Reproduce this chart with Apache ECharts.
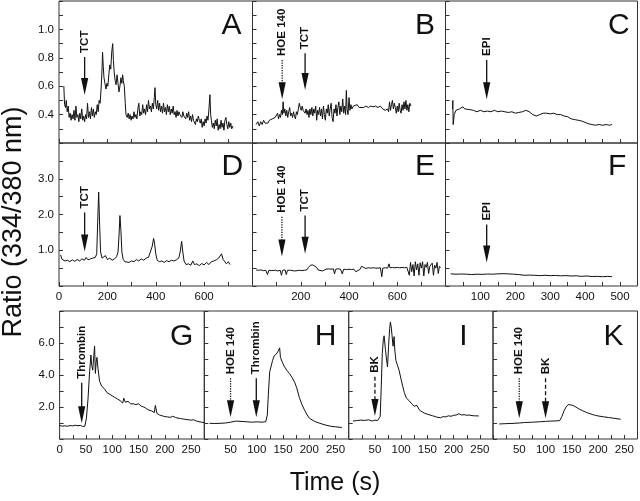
<!DOCTYPE html>
<html><head><meta charset="utf-8">
<script src="https://cdn.jsdelivr.net/npm/echarts@6/dist/echarts.min.js"></script>
<style>html,body{margin:0;padding:0;background:#fff}#c{width:640px;height:501px}</style>
</head><body><div id="c"></div>
<script>
// ---------- DATA ----------
const seriesA = [[20,0.60],[23,0.47],[27,0.45],[30,0.50],[34,0.42],[38,0.46],[42,0.38],[46,0.41],[50,0.36],[54,0.40],[58,0.37],[62,0.43],[66,0.36],[70,0.46],[74,0.38],[78,0.40],[82,0.35],[86,0.41],[90,0.37],[94,0.44],[98,0.36],[102,0.39],[106,0.35],[110,0.40],[114,0.37],[118,0.48],[122,0.38],[126,0.42],[130,0.37],[134,0.45],[138,0.39],[142,0.44],[146,0.38],[150,0.42],[154,0.40],[158,0.47],[162,0.42],[166,0.50],[170,0.48],[174,0.58],[178,0.72],[180,0.84],[183,0.74],[186,0.66],[190,0.62],[194,0.58],[198,0.62],[202,0.60],[206,0.68],[210,0.75],[214,0.72],[218,0.84],[222,0.90],[225,0.78],[228,0.70],[232,0.64],[236,0.61],[240,0.68],[244,0.62],[248,0.56],[252,0.60],[256,0.66],[260,0.62],[263,0.68],[266,0.64],[270,0.60],[274,0.48],[277,0.40],[282,0.38],[286,0.41],[290,0.37],[294,0.40],[298,0.36],[302,0.39],[306,0.37],[310,0.42],[314,0.38],[318,0.40],[322,0.37],[326,0.44],[330,0.48],[334,0.39],[338,0.42],[342,0.40],[346,0.47],[350,0.41],[354,0.44],[358,0.40],[362,0.47],[366,0.42],[370,0.50],[374,0.44],[378,0.46],[382,0.42],[386,0.48],[390,0.44],[394,0.52],[397,0.59],[400,0.47],[404,0.44],[408,0.50],[412,0.43],[416,0.48],[420,0.42],[424,0.46],[428,0.41],[432,0.48],[436,0.42],[440,0.45],[444,0.40],[448,0.47],[452,0.42],[456,0.46],[460,0.40],[464,0.44],[468,0.41],[472,0.46],[476,0.40],[480,0.42],[484,0.38],[488,0.43],[492,0.39],[496,0.42],[500,0.40],[504,0.41],[508,0.38],[512,0.42],[516,0.39],[520,0.40],[524,0.37],[528,0.41],[532,0.38],[536,0.42],[540,0.36],[544,0.39],[548,0.35],[552,0.40],[556,0.36],[560,0.37],[564,0.33],[568,0.37],[572,0.35],[576,0.39],[580,0.36],[584,0.34],[588,0.37],[592,0.31],[596,0.35],[600,0.32],[604,0.37],[608,0.34],[612,0.39],[616,0.36],[620,0.44],[624,0.54],[627,0.40],[630,0.36],[634,0.31],[638,0.34],[642,0.30],[646,0.36],[650,0.32],[654,0.37],[658,0.29],[662,0.33],[666,0.30],[670,0.36],[674,0.31],[678,0.34],[682,0.29],[686,0.36],[690,0.38],[694,0.33],[698,0.30],[702,0.35],[706,0.31],[710,0.34],[714,0.30],[720,0.32]];
const seriesB = [[15,0.33],[22,0.35],[28,0.32],[34,0.35],[40,0.33],[46,0.36],[52,0.34],[58,0.35],[64,0.34],[70,0.36],[76,0.35],[82,0.37],[88,0.36],[94,0.38],[100,0.37],[104,0.41],[108,0.37],[112,0.40],[116,0.38],[120,0.43],[124,0.40],[127,0.49],[130,0.41],[134,0.44],[138,0.39],[142,0.43],[146,0.38],[150,0.42],[154,0.45],[158,0.39],[162,0.41],[166,0.38],[170,0.42],[174,0.39],[178,0.37],[182,0.42],[186,0.40],[190,0.44],[194,0.48],[198,0.45],[202,0.43],[206,0.46],[210,0.43],[214,0.44],[218,0.41],[222,0.44],[226,0.40],[230,0.43],[234,0.38],[238,0.44],[242,0.40],[246,0.45],[250,0.39],[254,0.44],[258,0.41],[262,0.46],[266,0.36],[270,0.43],[274,0.40],[278,0.45],[282,0.39],[286,0.44],[290,0.37],[294,0.46],[298,0.40],[302,0.36],[306,0.44],[310,0.41],[314,0.47],[318,0.39],[322,0.44],[326,0.48],[330,0.38],[334,0.35],[338,0.44],[342,0.41],[346,0.47],[350,0.39],[354,0.45],[358,0.49],[362,0.40],[366,0.46],[370,0.42],[374,0.51],[378,0.41],[382,0.46],[386,0.40],[389,0.57],[392,0.44],[396,0.40],[400,0.52],[404,0.43],[408,0.47],[412,0.44],[418,0.46],[426,0.45],[434,0.47],[442,0.45],[450,0.46],[460,0.45],[470,0.46],[480,0.45],[490,0.46],[500,0.455],[510,0.46],[520,0.45],[530,0.46],[540,0.44],[550,0.43],[560,0.44],[564,0.42],[568,0.49],[572,0.43],[576,0.47],[580,0.50],[584,0.44],[588,0.48],[592,0.45],[596,0.41],[600,0.46],[604,0.42],[608,0.48],[612,0.43],[616,0.41],[620,0.47],[624,0.43],[628,0.49],[632,0.44],[636,0.50],[640,0.43],[644,0.47],[648,0.42],[652,0.48],[657,0.46]];
const seriesC = [[20,0.44],[21,0.50],[22,0.33],[25,0.40],[30,0.43],[35,0.42],[40,0.44],[45,0.43],[50,0.455],[55,0.44],[60,0.43],[70,0.435],[80,0.43],[90,0.42],[100,0.43],[110,0.42],[120,0.425],[130,0.42],[140,0.43],[150,0.42],[160,0.425],[170,0.42],[180,0.415],[190,0.42],[200,0.41],[210,0.415],[220,0.42],[230,0.43],[240,0.42],[250,0.40],[260,0.39],[270,0.40],[280,0.41],[290,0.41],[300,0.405],[310,0.41],[320,0.40],[330,0.40],[340,0.39],[350,0.385],[360,0.37],[370,0.365],[380,0.36],[390,0.355],[400,0.345],[410,0.335],[420,0.33],[430,0.325],[440,0.33],[450,0.325],[460,0.33],[470,0.325],[477,0.33]];
const seriesD = [[7,0.87],[12,0.75],[18,0.80],[25,0.70],[35,0.72],[45,0.68],[55,0.73],[65,0.69],[75,0.74],[85,0.70],[95,0.76],[105,0.72],[112,0.80],[120,0.73],[130,0.76],[140,0.78],[150,0.80],[156,0.90],[160,1.80],[164,2.63],[168,1.70],[172,0.95],[178,0.78],[185,0.76],[192,0.85],[200,0.74],[210,0.78],[220,0.72],[230,0.76],[238,0.82],[244,0.95],[248,1.40],[252,1.97],[256,1.55],[260,0.95],[265,0.75],[272,0.68],[280,0.72],[290,0.66],[300,0.70],[310,0.68],[320,0.74],[330,0.70],[340,0.76],[350,0.72],[360,0.78],[370,0.80],[378,0.85],[385,1.10],[391,1.33],[395,1.20],[400,0.90],[406,0.72],[415,0.68],[425,0.70],[435,0.66],[445,0.71],[455,0.68],[465,0.72],[475,0.70],[485,0.73],[495,0.78],[501,0.95],[507,1.25],[512,0.95],[517,0.70],[525,0.60],[535,0.62],[545,0.58],[553,0.70],[560,0.60],[570,0.62],[580,0.57],[590,0.63],[600,0.59],[610,0.66],[620,0.60],[630,0.68],[640,0.70],[650,0.73],[660,0.78],[668,0.82],[672,0.90],[678,0.75],[685,0.80],[692,0.62],[700,0.68],[707,0.60]];
const seriesE = [[15,0.45],[25,0.44],[35,0.45],[45,0.43],[55,0.44],[62,0.32],[68,0.44],[80,0.43],[95,0.44],[105,0.42],[115,0.44],[120,0.30],[125,0.44],[135,0.45],[140,0.32],[145,0.44],[150,0.45],[158,0.44],[165,0.43],[175,0.42],[185,0.43],[195,0.44],[205,0.43],[215,0.44],[225,0.45],[232,0.52],[240,0.58],[250,0.59],[258,0.57],[266,0.52],[272,0.45],[280,0.40],[290,0.42],[298,0.41],[305,0.47],[315,0.48],[325,0.47],[335,0.48],[340,0.34],[345,0.47],[355,0.48],[365,0.47],[372,0.34],[378,0.47],[390,0.46],[400,0.47],[410,0.46],[420,0.47],[428,0.40],[435,0.40],[445,0.46],[452,0.55],[460,0.50],[470,0.49],[480,0.51],[490,0.50],[500,0.51],[510,0.50],[520,0.50],[530,0.51],[536,0.26],[540,0.50],[550,0.51],[560,0.50],[566,0.62],[570,0.51],[580,0.52],[590,0.51],[600,0.52],[610,0.51],[620,0.52],[630,0.51],[640,0.52],[650,0.30],[655,0.66],[660,0.40],[665,0.60],[670,0.28],[675,0.68],[680,0.45],[685,0.62],[690,0.30],[695,0.65],[700,0.50],[705,0.68],[710,0.28],[715,0.60],[720,0.52],[725,0.66],[730,0.35],[735,0.55],[740,0.52],[745,0.64],[750,0.30],[755,0.58],[760,0.50],[765,0.66],[770,0.35],[775,0.55],[780,0.52]];
const seriesF = [[15,0.34],[30,0.33],[45,0.335],[60,0.33],[75,0.32],[90,0.33],[105,0.325],[120,0.335],[135,0.33],[150,0.34],[165,0.345],[180,0.34],[195,0.33],[210,0.32],[225,0.30],[240,0.305],[255,0.30],[270,0.29],[285,0.30],[300,0.29],[315,0.295],[330,0.285],[345,0.29],[360,0.28],[375,0.285],[390,0.27],[405,0.28],[420,0.265],[435,0.27],[450,0.26],[465,0.27],[477,0.26]];
const seriesG = [[0,0.85],[5,0.80],[10,0.82],[15,0.80],[20,0.84],[25,0.82],[30,0.86],[35,0.83],[40,0.85],[44,0.78],[48,0.80],[51,1.30],[54,2.5],[57,4.2],[59.5,5.25],[61,4.6],[63,4.3],[65,5.2],[66.5,5.8],[68,4.1],[69.5,4.8],[71,5.1],[73,4.4],[76,3.6],[80,3.3],[85,3.15],[90,2.9],[95,2.8],[100,2.7],[105,2.6],[110,2.5],[115,2.4],[120,2.25],[122,2.55],[125,2.3],[130,2.35],[135,2.2],[140,2.2],[145,2.15],[150,2.2],[155,2.05],[160,2.0],[165,1.9],[170,1.8],[175,1.75],[180,1.65],[182,2.1],[185,1.6],[190,1.5],[195,1.45],[200,1.4],[205,1.38],[210,1.35],[215,1.42],[220,1.35],[225,1.3],[230,1.28],[235,1.25],[240,1.22],[245,1.2],[250,1.18],[255,1.2],[260,1.12],[265,1.08],[270,1.05],[275,1.02]];
const seriesH = [[10,0.98],[20,0.97],[30,0.98],[40,1.0],[50,1.05],[60,1.12],[70,1.1],[80,1.08],[90,1.05],[100,1.07],[110,1.05],[117,1.08],[120,1.5],[122,2.8],[124.5,4.2],[127.5,4.3],[130,4.9],[133,5.2],[137,5.3],[140,5.45],[143.5,5.7],[145,5.1],[148,4.85],[152,4.55],[157,4.3],[162,4.1],[167,3.85],[172,3.55],[176,3.2],[181,2.6],[186,2.15],[191,1.8],[196,1.5],[200,1.3],[210,1.1],[220,0.98],[230,0.88],[240,0.8],[250,0.76],[262,0.72]];
const seriesI = [[8,1.12],[15,1.15],[22,1.18],[30,1.16],[38,1.2],[45,1.12],[50,1.18],[55,1.15],[58,1.2],[60,1.4],[62,3.2],[64,5.35],[66,6.2],[67.5,6.45],[70,5.6],[72,5.0],[74,4.5],[76,5.8],[78,6.9],[79.5,7.3],[81,7.0],[82.5,6.5],[84.5,5.8],[86.5,6.4],[88,5.5],[90,4.9],[93,4.6],[96,4.3],[100,3.7],[103,3.3],[106,2.9],[110,2.55],[115,2.4],[120,2.2],[125,2.05],[130,2.1],[135,1.8],[140,1.7],[145,1.6],[150,1.55],[155,1.5],[160,1.45],[165,1.4],[170,1.35],[175,1.33],[180,1.4],[185,1.38],[190,1.45],[195,1.42],[200,1.48],[205,1.5],[210,1.58],[215,1.5],[220,1.52],[225,1.48],[230,1.5],[235,1.46],[240,1.45],[248,1.44]];
const seriesK = [[12,0.94],[25,0.96],[40,0.98],[50,1.0],[60,1.03],[75,1.05],[90,1.08],[100,1.1],[110,1.12],[120,1.13],[127,1.15],[131,1.4],[135,1.75],[139,2.0],[143,2.15],[146,2.2],[150,2.12],[155,2.05],[160,1.95],[165,1.85],[170,1.78],[175,1.7],[180,1.63],[185,1.58],[190,1.52],[195,1.48],[200,1.44],[210,1.39],[220,1.34],[230,1.3],[243,1.23]];

// arrows: [x, tipValue, tailValue, label, kind]
const arrowsA = [[106,0.538,0.806,'TCT','solid']];
const arrowsB = [[123,0.508,0.785,'HOE 140','dotted'],[218,0.573,0.832,'TCT','solid']];
const arrowsC = [[118,0.508,0.785,'EPI','solid']];
const arrowsD = [[106,0.966,2.056,'TCT','solid']];
const arrowsE = [[122,0.825,1.935,'HOE 140','dotted'],[218,0.90,1.97,'TCT','solid']];
const arrowsF = [[118,0.656,1.718,'EPI','solid']];
const arrowsG = [[42,0.98,3.52,'Thrombin','solid']];
const arrowsH = [[50,1.36,3.79,'HOE 140','dotted'],[99,1.36,3.79,'Thrombin','solid']];
const arrowsI = [[50,1.44,3.89,'BK','dashed']];
const arrowsK = [[50,1.29,3.79,'HOE 140','dotted'],[100,1.29,3.79,'BK','dashed']];

// tick labels
const xLabelsD = [0,200,400,600];
const xLabelsE = [200,400,600];
const xLabelsF = [100,200,300,400,500];
const xLabelsG = [0,50,100,150,200,250];
const xLabelsHIK = [50,100,150,200,250];
const yLabelsA = [0.4,0.6,0.8,1.0];
const yLabelsD = [1.0,2.0,3.0];
const yLabelsG = [2.0,4.0,6.0];

const panelLetters = ['A','B','C','D','E','F','G','H','I','K'];
const yTitle = 'Ratio (334/380 nm)';
const xTitle = 'Time (s)';

// ---------- LAYOUT ----------
const layout = {
  A:[59,1,193.5,142], B:[252.5,1,193,142], C:[445.5,1,192,142],
  D:[59,143,193.5,143], E:[252.5,143,193,143], F:[445.5,143,192,143],
  G:[59.6,311,144.7,128], H:[204.3,311,144.4,128], I:[348.7,311,144.3,128], K:[493,311,144.5,128]
};
const topX = {min:0,max:800,interval:100};
const cfX = {min:0,max:550,interval:50};
const botX = {min:0,max:275,interval:25};
const yTop = {min:0.2,max:1.2,interval:0.1};
const yMid = {min:0,max:4,interval:0.5};
const yBot = {min:0,max:8,interval:1};

const panels = [
  {k:'A', d:seriesA, ar:arrowsA, x:topX, y:yTop, xl:null, yl:yLabelsA},
  {k:'B', d:seriesB, ar:arrowsB, x:topX, y:yTop, xl:null, yl:null},
  {k:'C', d:seriesC, ar:arrowsC, x:cfX, y:yTop, xl:null, yl:null},
  {k:'D', d:seriesD, ar:arrowsD, x:topX, y:yMid, xl:xLabelsD, yl:yLabelsD},
  {k:'E', d:seriesE, ar:arrowsE, x:topX, y:yMid, xl:xLabelsE, yl:null},
  {k:'F', d:seriesF, ar:arrowsF, x:cfX, y:yMid, xl:xLabelsF, yl:null},
  {k:'G', d:seriesG, ar:arrowsG, x:botX, y:yBot, xl:xLabelsG, yl:yLabelsG},
  {k:'H', d:seriesH, ar:arrowsH, x:botX, y:yBot, xl:xLabelsHIK, yl:null},
  {k:'I', d:seriesI, ar:arrowsI, x:botX, y:yBot, xl:xLabelsHIK, yl:null},
  {k:'K', d:seriesK, ar:arrowsK, x:botX, y:yBot, xl:xLabelsHIK, yl:null}
];

const FONT = '"Liberation Sans", Arial, Helvetica, sans-serif';
const INK = '#111';
const FRAME = '#333';
const has = (list, v) => list.some(l => Math.abs(l - v) < 1e-6);

const grid = [], xAxis = [], yAxis = [], series = [], graphic = [];
panels.forEach((p, i) => {
  const [l, t, w, h] = layout[p.k];
  grid.push({left:l, top:t, width:w, height:h, show:true, borderColor:FRAME, borderWidth:1,
    backgroundColor:'transparent', outerBoundsMode:'none', containLabel:false});
  xAxis.push({type:'value', gridIndex:i, min:p.x.min, max:p.x.max, interval:p.x.interval,
    splitLine:{show:false}, axisLine:{show:false},
    axisTick:{show:true, inside:true, length:4, lineStyle:{color:FRAME}},
    axisLabel:{show:!!p.xl, margin:5, fontSize:11.5, color:INK, fontFamily:FONT,
      formatter: v => (p.xl && has(p.xl, v)) ? String(v) : ''}});
  yAxis.push({type:'value', gridIndex:i, min:p.y.min, max:p.y.max, interval:p.y.interval,
    splitLine:{show:false}, axisLine:{show:false},
    axisTick:{show:true, inside:true, length:4, lineStyle:{color:FRAME}},
    axisLabel:{show:!!p.yl, margin:5, fontSize:11.5, color:INK, fontFamily:FONT,
      formatter: v => (p.yl && has(p.yl, v)) ? v.toFixed(1) : ''}});
  series.push({type:'line', xAxisIndex:i, yAxisIndex:i, data:p.d, showSymbol:false,
    symbol:'none', lineStyle:{color:INK, width:1}, animation:false, silent:true});
  const ar = p.ar;
  series.push({type:'custom', xAxisIndex:i, yAxisIndex:i, animation:false, silent:true,
    data: ar.map(a => [a[0], a[1], a[2]]),
    renderItem: (params, api) => {
      const a = ar[params.dataIndex];
      const tip = api.coord([api.value(0), api.value(1)]);
      const tail = api.coord([api.value(0), api.value(2)]);
      const head = 17, hw = 3.6;
      const dash = a[4] === 'dotted' ? [1.2, 1.3] : (a[4] === 'dashed' ? [4, 2.5] : null);
      return {type:'group', children:[
        {type:'line', shape:{x1:tail[0], y1:tail[1], x2:tip[0], y2:tip[1]-head+2},
          style:{stroke:INK, lineWidth:1.3, lineDash:dash}},
        {type:'polygon', shape:{points:[[tip[0]-hw, tip[1]-head],[tip[0]+hw, tip[1]-head],[tip[0], tip[1]]]},
          style:{fill:INK}},
        {type:'text', x:tail[0], y:tail[1]-4, rotation:Math.PI/2,
          style:{text:a[3], fill:INK, font:'bold 11.5px ' + FONT, align:'left', verticalAlign:'middle'}}
      ]};
    }});
  // panel letter
  const top3 = i >= 6;
  graphic.push({type:'text', x: l + (top3 ? 110.5 : 162.5), y: t + (top3 ? 26 : (i < 3 ? 24.5 : 23.5)),
    style:{text:panelLetters[i], fill:INK, font:'30px ' + FONT, align:'left', verticalAlign:'middle',
      textAlign:'left', textVerticalAlign:'middle'}});
});
graphic.push({type:'text', x:14, y:222, rotation:Math.PI/2,
  style:{text:yTitle, fill:INK, font:'27px ' + FONT, align:'center', verticalAlign:'middle',
    textAlign:'center', textVerticalAlign:'middle'}});
graphic.push({type:'text', x:335, y:483,
  style:{text:xTitle, fill:INK, font:'25px ' + FONT, align:'center', verticalAlign:'middle',
    textAlign:'center', textVerticalAlign:'middle'}});

const chart = echarts.init(document.getElementById('c'), null, {renderer:'canvas'});
chart.setOption({backgroundColor:'#fff', animation:false, textStyle:{fontFamily:FONT},
  grid, xAxis, yAxis, series, graphic});
</script></body></html>
